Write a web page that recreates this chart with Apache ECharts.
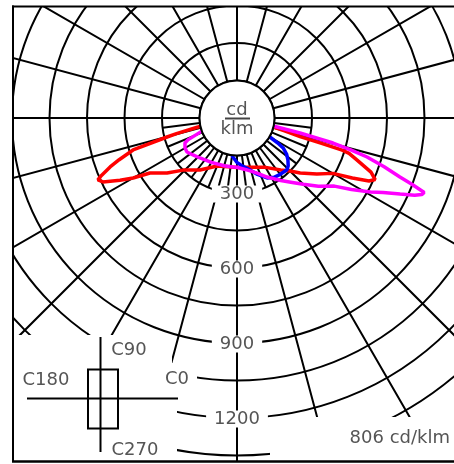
<!DOCTYPE html>
<html><head><meta charset="utf-8">
<script src="https://cdn.jsdelivr.net/npm/echarts@6/dist/echarts.min.js"></script>
<style>html,body{margin:0;padding:0;background:#fff}#c{width:454px;height:464px}</style>
</head><body><div id="c"></div>
<script>
// Angles: degrees from nadir (0 = straight down, + toward C0 side). Values: cd/klm
const redAngles = [-90,-80,-77,-75.5,-74.8,-72.9,-70.5,-68.9,-67,-66,-64.5,-62,-60,-57.7,-51.8,-46,-35.4,-22.6,-10,0,10,20,30,40,45,49,55,60,62.5,64.5,66,66.8,68,70.7,72.5,73.0,73.3,73.6,74.8,76,78,90];
const redValues = [60,100,160,250,290,435,500,544,590,609,594,530,480,412,356,300,255,208,198,198,200,210,228,272,300,335,390,443,520,585,605,609,578,509,470,440,350,263,200,148,110,60];

const blueAngles = [-90,-30,-10,-6,0,7,14,20,26.6,32,37.5,44,47,50.5,54,57,58.5,60,62,90];
const blueValues = [20,80,140,157,178,195,214,240,268,280,284,288,280,264,245,220,190,152,120,20];

const magentaAngles = [-90,-75,-69.5,-66,-64.3,-60,-55.8,-50,-42.8,-30,-15,-4.7,0,10,20,27,35,40,45,50,55,58,61,63,65,66.5,67.5,68.3,69.2,70.1,71.7,73.3,74.4,75.4,76.6,77.5,80,90];
const magentaValues = [60,100,150,215,231,240,242,230,218,205,198,197,197,210,235,265,305,335,375,425,475,540,610,656,720,775,800,806,750,693,620,543,470,397,259,148,100,60];

const ringValues = [300, 600, 900, 1200];
const ringLabels = ['300', '600', '900', '1200'];
const innerGridAngles = [-82.5,-67.5,-52.5,-37.5,-22.5,-7.5,7.5,22.5,37.5,52.5,67.5,82.5];
const planeLabels = { c0: 'C0', c90: 'C90', c180: 'C180', c270: 'C270' };
const maxLabel = '806 cd/klm';
const unitTop = 'cd';
const unitBottom = 'klm';

const CX = 237, CY = 118, R = 375, VMAX = 1500;
const holeR = 150 / VMAX * R;
const FONT = '18px "DejaVu Sans", Verdana, sans-serif';
const TXT = '#555';
const GRID_W = 2;

function toPolar(angles, values) { return angles.map((a, i) => [values[i], a]); }

const series = [];
innerGridAngles.forEach(a => {
  series.push({ type: 'line', coordinateSystem: 'polar', data: [[150, a], [300, a]], showSymbol: false, silent: true,
    lineStyle: { color: '#000', width: GRID_W }, z: 1 });
});
series.push({ type: 'line', coordinateSystem: 'polar', data: toPolar(redAngles, redValues), showSymbol: false,
  lineStyle: { color: '#ff0000', width: 3.5 }, z: 3 });
series.push({ type: 'line', coordinateSystem: 'polar', data: toPolar(blueAngles, blueValues), showSymbol: false,
  lineStyle: { color: '#0000ff', width: 3.5 }, z: 3 });
series.push({ type: 'line', coordinateSystem: 'polar', data: toPolar(magentaAngles, magentaValues), showSymbol: false,
  lineStyle: { color: '#ff00ff', width: 3.5 }, z: 3 });
const magentaIndex = series.length - 1;

function rect(x, y, w, h) { return { type: 'rect', z: 100, silent: true, shape: { x, y, width: w, height: h }, style: { fill: '#fff' } }; }
function line(x1, y1, x2, y2, w, c) { return { type: 'line', z: 110, silent: true, shape: { x1, y1, x2, y2 }, style: { stroke: c || '#000', lineWidth: w || 2 } }; }
function text(t, x, y, align, extra) {
  return { type: 'text', z: 120, silent: true, style: Object.assign({ text: t, x, y, fill: TXT, font: FONT,
    align: align || 'center', verticalAlign: 'middle', textAlign: align || 'center', textVerticalAlign: 'middle' }, extra || {}) };
}

const graphics = [
  rect(0, 0, 454, 6), rect(0, 0, 12, 464), rect(0, 462, 454, 2),
  rect(12, 335, 160, 130), rect(160, 363, 37, 32), rect(12, 395, 165, 70),
  rect(270, 417, 184, 48),
  { type: 'circle', z: 105, silent: true, shape: { cx: CX, cy: CY, r: holeR }, style: { fill: '#fff', stroke: '#000', lineWidth: 2 } },
  line(13, 5.5, 13, 462, 2), line(12, 6.5, 454, 6.5, 2), line(12, 461.5, 454, 461.5, 2.5),
  line(100.5, 337, 100.5, 452, 2), line(27, 398.5, 178, 398.5, 2),
  { type: 'rect', z: 110, silent: true, shape: { x: 88, y: 369.5, width: 30, height: 59 }, style: { fill: 'none', stroke: '#000', lineWidth: 2 } },
  line(225, 118.5, 250, 118.5, 2, '#444'),
  text(unitTop, CX, 110.5), text(unitBottom, CX, 129),
  text(planeLabels.c90, 129, 350), text(planeLabels.c180, 46, 380), text(planeLabels.c0, 177, 379), text(planeLabels.c270, 135, 450),
  text(maxLabel, 450, 438, 'right')
];

const chart = echarts.init(document.getElementById('c'), null, { renderer: 'canvas' });
const baseOption = {
  animation: false,
  backgroundColor: '#fff',
  polar: { center: [CX, CY], radius: R },
  angleAxis: { type: 'value', min: -180, max: 180, interval: 15, startAngle: 90, clockwise: false,
    axisLine: { show: false }, axisTick: { show: false }, axisLabel: { show: false },
    splitLine: { show: true, lineStyle: { color: '#000', width: GRID_W } } },
  radiusAxis: { type: 'value', min: 0, max: VMAX, interval: 150,
    axisLine: { show: false }, axisTick: { show: false }, axisLabel: { show: false },
    splitLine: { show: true, lineStyle: { color: '#000', width: GRID_W } } },
  series,
  graphic: { elements: graphics }
};
chart.setOption(baseOption);

// Ring value labels placed through the polar scale
ringValues.forEach((v, i) => {
  let p = chart.convertToPixel({ seriesIndex: magentaIndex }, [v, 0]);
  if (!p || isNaN(p[0])) p = [CX, CY + v / VMAX * R];
  graphics.push(text(ringLabels[i], p[0], p[1] + 1, 'center',
    { backgroundColor: '#fff', padding: [1, 8, 0, 8], lineHeight: 16 }));
});
chart.setOption({ graphic: { elements: graphics } }, { replaceMerge: ['graphic'] });
</script></body></html>
